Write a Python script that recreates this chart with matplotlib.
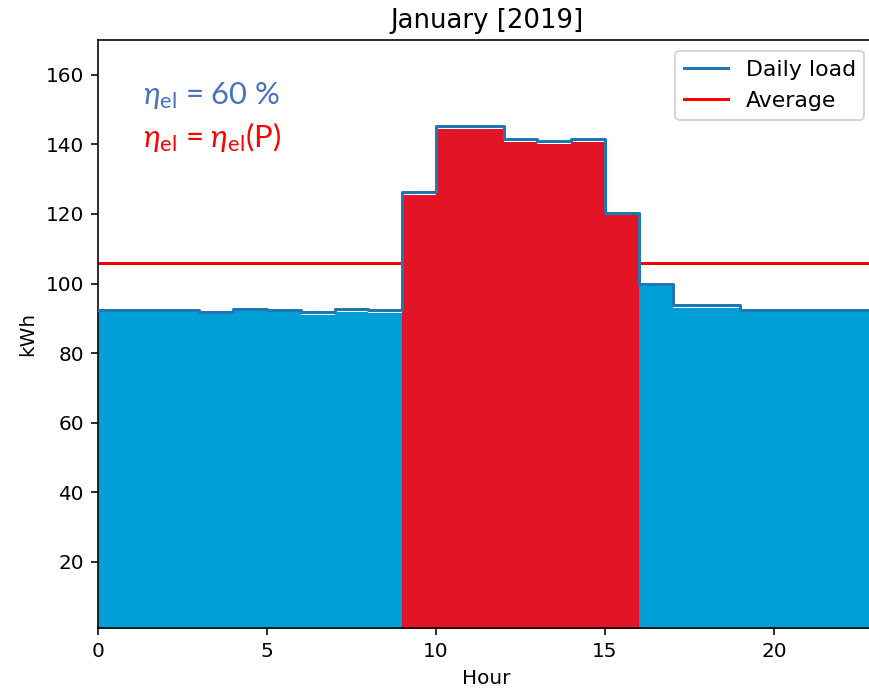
import matplotlib
matplotlib.use("Agg")
import matplotlib.pyplot as plt
import numpy as np

# hourly load
hours = np.arange(24)
load = [92.4, 92.4, 92.4, 91.9, 92.8, 92.5, 91.8, 92.6, 92.3,
        126.2, 145.2, 145.2, 141.4, 140.9, 141.4, 120.4,
        99.9, 93.8, 93.7, 92.4, 92.4, 92.4, 92.4, 92.4]
average = np.mean(load)

title = "January [2019]"
text_fixed = r"$\eta_{\mathrm{el}}$ = 60 %"
text_var = r"$\eta_{\mathrm{el}}$ = $\eta_{\mathrm{el}}$(P)"

BLUE_FILL = "#00a0d6"
RED_FILL = "#e31426"

plt.rcParams['mathtext.fontset'] = 'custom'
plt.rcParams['mathtext.rm'] = 'Lato'
plt.rcParams['mathtext.it'] = 'Lato:italic'

dpi = 144
fig = plt.figure(figsize=(869 / dpi, 694 / dpi), dpi=dpi)
ax = fig.add_axes([0.1128, 0.0951, 0.8946, 0.8473])

load = np.array(load)
top = load - 0.7

# painted areas: constant efficiency outside 9-16 h, variable inside
ax.fill_between(hours[0:10], 0, top[0:10], step='post', color=BLUE_FILL, lw=0, zorder=2.5)
ax.fill_between(hours[9:17], 0, top[9:17], step='post', color=RED_FILL, lw=0, zorder=2.5)
ax.fill_between(hours[16:24], 0, top[16:24], step='post', color=BLUE_FILL, lw=0, zorder=2.5)

ax.step(hours, load, where='post', color='C0', label='Daily load', zorder=3)
ax.axhline(average, color='red', label='Average', zorder=2)

ax.set_xlim(0, 23)
ax.set_ylim(1, 170)
ax.set_xticks([0, 5, 10, 15, 20])
ax.set_yticks([20, 40, 60, 80, 100, 120, 140, 160])
ax.set_title(title, fontsize=13)
ax.set_xlabel("Hour")
ax.set_ylabel("kWh")
ax.legend(loc='upper right', fontsize=11)

ax.text(0.058, 0.906, text_fixed, transform=ax.transAxes, color='#4472c4',
        fontsize=15.5, family='Lato', va='center', ha='left')
ax.text(0.058, 0.835, text_var, transform=ax.transAxes, color='#ff0000',
        fontsize=15.5, family='Lato', va='center', ha='left')

fig.savefig("out.png", dpi=dpi)
